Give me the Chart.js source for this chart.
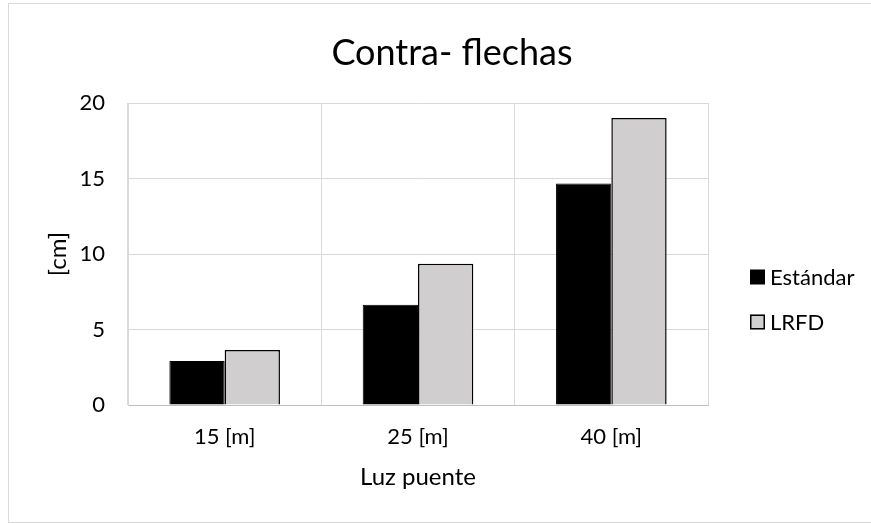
<!DOCTYPE html>
<html>
<head>
<meta charset="utf-8">
<script src="https://cdn.jsdelivr.net/npm/chart.js@4.4.1/dist/chart.umd.min.js"></script>
<style>
  html, body { margin: 0; padding: 0; background: #fff; }
  #wrap { position: relative; width: 871px; height: 523px; overflow: hidden; }
  #frame {
    position: absolute; left: 8px; top: 3px; width: 900px; height: 518px;
    border: 1px solid #d9d9d9; pointer-events: none;
  }
  canvas { position: absolute; left: 0; top: 0; }
</style>
</head>
<body>
<div id="wrap">
  <canvas id="chart" width="871" height="523"></canvas>
  <div id="frame"></div>
</div>
<script>
// Contra-flechas por luz de puente
const categories = ["15 [m]", "25 [m]", "40 [m]"];
const estandar = [2.92, 6.64, 14.67];
const lrfd = [3.65, 9.36, 19.0];
const yTicks = [0, 5, 10, 15, 20];
const chartTitle = "Contra- flechas";
const yTitle = "[cm]";
const xTitle = "Luz puente";

const FONT = "Lato, 'Open Sans', sans-serif";

// ===== Title, y-axis title and legend drawn on top of the chart =====
const decorations = {
    id: "decorations",
    afterDraw(chart) {
        const ctx = chart.ctx;
        const area = chart.chartArea;
        ctx.save();

        // title, centred on the whole frame
        ctx.font = "36px " + FONT;
        ctx.fillStyle = "#000";
        ctx.textAlign = "center";
        ctx.textBaseline = "middle";
        ctx.fillText(chartTitle, 452, 53);

        // vertical axis title
        ctx.save();
        ctx.translate(58, (area.top + area.bottom) / 2);
        ctx.rotate(-Math.PI / 2);
        ctx.font = "24px " + FONT;
        ctx.fillText(yTitle, 0, 0);
        ctx.restore();

        // legend at the right of the plot
        const x = 750;
        const rows = [277, 322];
        ctx.font = "22px " + FONT;
        ctx.textAlign = "left";
        chart.data.datasets.forEach((ds, i) => {
            const y = rows[i];
            ctx.fillStyle = ds.backgroundColor;
            ctx.fillRect(x, y - 7.5, 15, 15);
            if (ds.borderWidth > 1) {
                ctx.strokeStyle = "#000";
                ctx.lineWidth = 1.5;
                ctx.strokeRect(x + 0.75, y - 6.75, 13.5, 13.5);
            }
            ctx.fillStyle = "#000";
            ctx.fillText(ds.label, x + 20, y + 1);
        });
        ctx.restore();
    }
};

new Chart(document.getElementById("chart"), {
    type: "bar",
    data: {
        labels: categories,
        datasets: [
            {
                label: "Estándar",
                data: estandar,
                backgroundColor: "#000000",
                borderColor: "#000000",
                borderWidth: 1
            },
            {
                label: "LRFD",
                data: lrfd,
                backgroundColor: "#d0cece",
                borderColor: "#000000",
                borderWidth: 1.5
            }
        ]
    },
    options: {
        responsive: false,
        animation: false,
        layout: { padding: { left: 0, top: 103, right: 163, bottom: 0 } },
        datasets: {
            bar: { categoryPercentage: 0.572, barPercentage: 1.0 }
        },
        plugins: {
            legend: { display: false },
            tooltip: { enabled: false },
            title: { display: false }
        },
        scales: {
            x: {
                grid: { color: "#d9d9d9", lineWidth: 1, drawTicks: false },
                border: { color: "#bfbfbf" },
                ticks: {
                    color: "#000",
                    padding: 19,
                    font: { family: FONT, size: 22 }
                },
                title: {
                    display: true,
                    text: xTitle,
                    color: "#000",
                    font: { family: FONT, size: 24 },
                    padding: { top: 0, bottom: 31.6 }
                },
                afterFit(scale) { scale.height = 118; }
            },
            y: {
                min: 0,
                max: 20,
                afterBuildTicks(scale) {
                    scale.ticks = yTicks.map(v => ({ value: v }));
                },
                grid: { color: "#d9d9d9", lineWidth: 1, drawTicks: false },
                border: { color: "#d9d9d9" },
                ticks: {
                    color: "#000",
                    padding: 23,
                    font: { family: FONT, size: 22 }
                },
                afterFit(scale) { scale.width = 128; }
            }
        }
    },
    plugins: [decorations]
});
</script>
</body>
</html>
